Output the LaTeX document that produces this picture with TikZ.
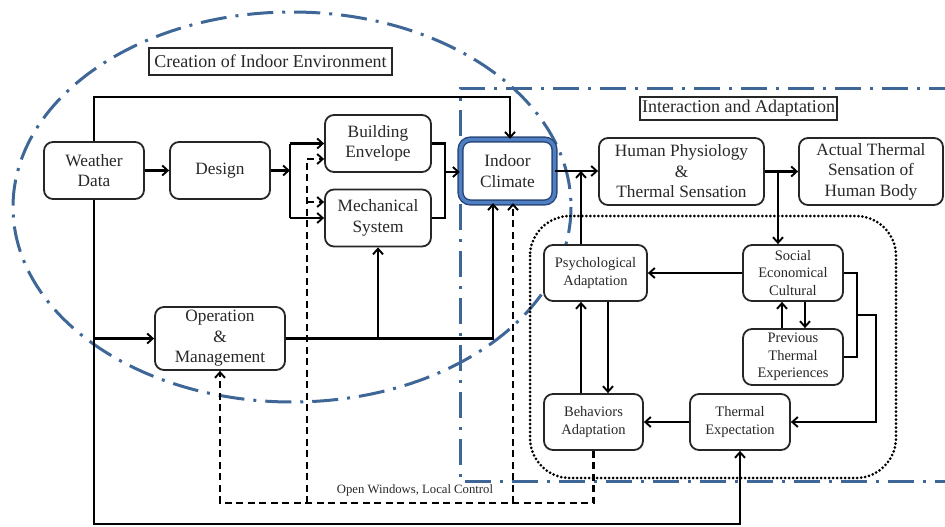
\documentclass[tikz,border=0pt]{standalone}
\usepackage{fontspec}
\setmainfont{Liberation Serif}
\usetikzlibrary{arrows.meta}
\definecolor{bluedd}{RGB}{62,102,150}
\definecolor{icband}{RGB}{80,128,196}
\definecolor{icedge}{RGB}{40,70,120}
\definecolor{txt}{RGB}{40,40,40}
\begin{document}
\begin{tikzpicture}[x=1pt,y=-1pt,
  box/.style={draw=black!85, fill=white, line width=1.8pt, rounded corners=9pt, align=center, text=txt, font=\fontsize{17.3}{20.5}\selectfont, inner sep=0pt},
  sbox/.style={box, font=\fontsize{14.5}{17.5}\selectfont},
  lbox/.style={draw=black!85, fill=white, line width=1.1pt, text=txt, font=\fontsize{18}{20}\selectfont, inner sep=0pt},
  conn/.style={line width=2.3pt, draw=black},
  arr/.style={conn, -{Straight Barb[length=5.5pt,width=10pt,line width=1.9pt]}},
  dsh/.style={conn, dash pattern=on 7pt off 4.5pt},
  darr/.style={dsh, -{Straight Barb[length=5.5pt,width=10pt,line width=1.9pt]}},
  bluedash/.style={draw=bluedd, line width=3pt, dash pattern=on 26pt off 9pt on 3pt off 9pt},
  dotbox/.style={draw=black, line width=3pt, line cap=round, dash pattern=on 0pt off 4pt},
]
\useasboundingbox (0,0) rectangle (945,527);
% background groupings
\draw[bluedash] (292,207) ellipse [x radius=279, y radius=195];
\draw[bluedash] (955,88) -- (460,88) -- (460,481) -- (955,481);
\draw[dotbox, rounded corners=40pt] (530,216) rectangle (896,478);

% labels
\node[lbox, minimum width=243pt, minimum height=27pt] (cie) at (270.5,61.5) {Creation of Indoor Environment};
\node[lbox, minimum width=197pt, minimum height=23pt] (ia) at (738.5,108.5) {Interaction and Adaptation};

% nodes
\node[box, minimum width=100pt, minimum height=57pt] (wd) at (94,170.5) {Weather\\Data};
\node[box, minimum width=100pt, minimum height=57pt] (des) at (220,170.5) {Design};
\node[box, minimum width=106pt, minimum height=57pt] (be) at (378,143.5) {Building\\Envelope};
\node[box, minimum width=106pt, minimum height=57pt] (ms) at (378,218) {Mechanical\\System};
\node[box, draw=icedge, line width=1.4pt, double=icband, double distance=3.4pt, rounded corners=10pt, minimum width=94pt, minimum height=63pt] (ic) at (507.5,171) {Indoor\\Climate};
\node[box, minimum width=165pt, minimum height=67pt] (hp) at (681.5,171.5) {Human Physiology\\\&\\Thermal Sensation};
\node[box, minimum width=144pt, minimum height=67pt] (at) at (871,171.5) {Actual Thermal\\Sensation of\\Human Body};
\node[box, minimum width=130pt, minimum height=63pt] (om) at (220,338.5) {Operation\\\&\\Management};
\node[sbox, minimum width=103pt, minimum height=56pt] (pa) at (595.5,273) {Psychological\\Adaptation};
\node[sbox, minimum width=100pt, minimum height=56pt] (sec) at (793,273) {Social\\Economical\\Cultural};
\node[sbox, minimum width=100pt, minimum height=56pt] (pte) at (793,357) {Previous\\Thermal\\Experiences};
\node[sbox, minimum width=99pt, minimum height=56pt] (ba) at (593.5,422) {Behaviors\\Adaptation};
\node[sbox, minimum width=100pt, minimum height=56pt] (te) at (740,422) {Thermal\\Expectation};
\node[text=txt, font=\fontsize{12.7}{14}\selectfont, inner sep=0pt] (owlc) at (415,490) {Open Windows, Local Control};

% helper coordinates
\coordinate (split) at (290,170.5);
\coordinate (sb) at (290,143.5);
\coordinate (sm) at (290,218);
\coordinate (jb) at (445,143.5);
\coordinate (jm) at (445,218);
\coordinate (jc) at (445,172);
\coordinate (tc) at (510,97);
\coordinate (bl) at (94,524);
\coordinate (oic) at (493,338.5);
\coordinate (db) at (0,503);
\coordinate (dv) at (307,503);
\coordinate (dvb) at (307,159);
\coordinate (dvm) at (307,202);
\coordinate (dic) at (513,503);
\coordinate (pax) at (581,171);
\coordinate (pdx) at (608,0);
\coordinate (hx) at (778,171);
\coordinate (ux) at (782,0);
\coordinate (dx) at (805,0);
\coordinate (bx1) at (857,315);
\coordinate (bx2) at (876,315);

% creation connectors
\draw[arr] (wd) -- (des);
\draw[arr] (des) -- (split);
\draw[conn] (sb) -- (sm);
\draw[arr] (sb) -- (sb -| be.west);
\draw[arr] (sm) -- (sm -| ms.west);
\draw[conn] (be.east |- jb) -- (jb) -- (jm) -- (ms.east |- jm);
\draw[arr] (jc) -- (ic.west |- jc);
\draw[arr] (wd.north) |- (tc) -- (tc |- ic.north);
\draw[arr] (wd.south) |- (te.south |- bl) -- (te.south);
\draw[arr] (wd.south |- om.west) -- (om.west);
\draw[arr] (om.east) -- (oic) -- (oic |- ic.south);
\draw[arr] (om.east -| ms.south) -- (ms.south);

% dashed feedback
\draw[darr] (ba.south) |- (om.south |- db) -- (om.south);
\draw[dsh] (dv) -- (dvb);
\draw[darr] (dvb) -- (dvb -| be.west);
\draw[darr] (dvm) -- (dvm -| ms.west);
\draw[darr] (dic) -- (ic.south -| dic);

% interaction connectors
\draw[arr] (ic.east) -- (hp.west |- ic.east);
\draw[arr] (pa.north -| pax) -- (pax);
\draw[arr] (hp.east) -- (at.west);
\draw[arr] (hx) -- (hx |- sec.north);
\draw[arr] (sec.west) -- (pa.east);
\draw[arr] (pte.north -| ux) -- (sec.south -| ux);
\draw[arr] (sec.south -| dx) -- (pte.north -| dx);
\draw[conn] (sec.east) -| (bx1) |- (pte.east);
\draw[arr] (bx1) -- (bx2) |- (te.east);
\draw[arr] (te.west) -- (ba.east);
\draw[arr] (ba.north -| pax) -- (pa.south -| pax);
\draw[arr] (pa.south -| pdx) -- (ba.north -| pdx);
\end{tikzpicture}
\end{document}
